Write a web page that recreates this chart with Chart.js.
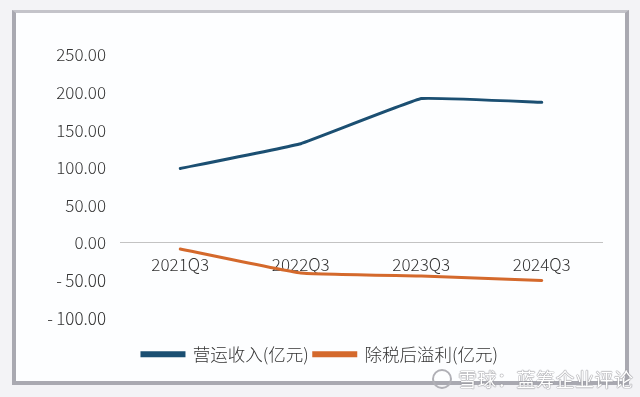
<!DOCTYPE html>
<html>
<head>
<meta charset="utf-8">
<script src="https://cdn.jsdelivr.net/npm/chart.js@4"></script>
<style>
  html, body { margin: 0; padding: 0; background: #f3f3f6; }
  #wrap { position: relative; width: 640px; height: 397px; overflow: hidden; }
  #card { position: absolute; left: 12px; top: 10px; width: 609px; height: 368px;
          background: #fdfeff; border-top: 3px solid #c4c4ca; border-left: 4px solid #a9a9b1;
          border-right: 4px solid #a9a9b1; border-bottom: 4px solid #a9a9b1; }
  #cv { position: absolute; left: 0; top: 0; }
  #wm { position: absolute; left: 432px; top: 365px; font-family: "Noto Sans CJK SC"; font-size: 19px;
        color: #ffffff; letter-spacing: 0.5px;
        text-shadow: 0 0 1px #8a8a90, 0 0 1px #8a8a90, 0 0 1px #8a8a90; white-space: nowrap; }
  #wm .logo { display: inline-block; width: 16px; height: 16px; border-radius: 50%; border: 2px solid #b0b0b6;
              vertical-align: -2px; margin-right: 6px; }
</style>
</head>
<body>
<div id="wrap">
  <div id="card"></div>
  <canvas id="cv" width="640" height="397"></canvas>
  <div id="wm"><span class="logo"></span>雪球：蓝筹企业评论</div>
</div>
<script>
const categories = ['2021Q3', '2022Q3', '2023Q3', '2024Q3'];
const revenue = [99, 132, 192, 187];
const profit = [-8, -40, -44, -50];
const seriesNames = ['营运收入(亿元)', '除税后溢利(亿元)'];
const yMin = -100, yMax = 250, yStep = 50;

const FONT = '"Noto Sans CJK SC", "Noto Sans", sans-serif';

new Chart(document.getElementById('cv'), {
  type: 'line',
  data: {
    labels: categories,
    datasets: [
      { label: seriesNames[0], data: revenue, borderColor: '#1b4f72', backgroundColor: '#1b4f72',
        borderWidth: 3, pointRadius: 0, tension: 0.07, borderCapStyle: 'round' },
      { label: seriesNames[1], data: profit, borderColor: '#d4692c', backgroundColor: '#d4692c',
        borderWidth: 3, pointRadius: 0, tension: 0.1, borderCapStyle: 'round' }
    ]
  },
  options: {
    responsive: false,
    animation: false,
    layout: { padding: { left: 0, right: 0, top: 55, bottom: 24 } },
    plugins: {
      tooltip: { enabled: false },
      legend: {
        position: 'bottom',
        title: { display: true, text: ' ', padding: { top: 0, bottom: 8 }, font: { size: 12 } },
        labels: { boxWidth: 42, boxHeight: 3, padding: 5, color: '#333', font: { family: FONT, size: 17.5, weight: 300 } }
      }
    },
    scales: {
      x: {
        position: { y: 0 },
        offset: true,
        grid: { display: false, drawTicks: false },
        border: { display: true, color: '#c3c3c3', width: 1 },
        ticks: { padding: 11, color: '#333', font: { family: FONT, size: 17, weight: 300 }, maxRotation: 0 }
      },
      y: {
        min: yMin, max: yMax,
        afterFit: (s) => { s.width = 120; },
        grid: { display: false, drawTicks: false },
        border: { display: false },
        ticks: {
          stepSize: yStep, padding: 14, color: '#333',
          font: { family: FONT, size: 17, weight: 300 },
          callback: (v) => v < 0 ? '-\u2009' + Math.abs(v).toFixed(2) : v.toFixed(2)
        }
      },
      yRight: {
        position: 'right',
        min: yMin, max: yMax,
        afterFit: (s) => { s.width = 38; },
        grid: { display: false, drawTicks: false },
        border: { display: false },
        ticks: { display: false }
      }
    }
  }
});
</script>
</body>
</html>
